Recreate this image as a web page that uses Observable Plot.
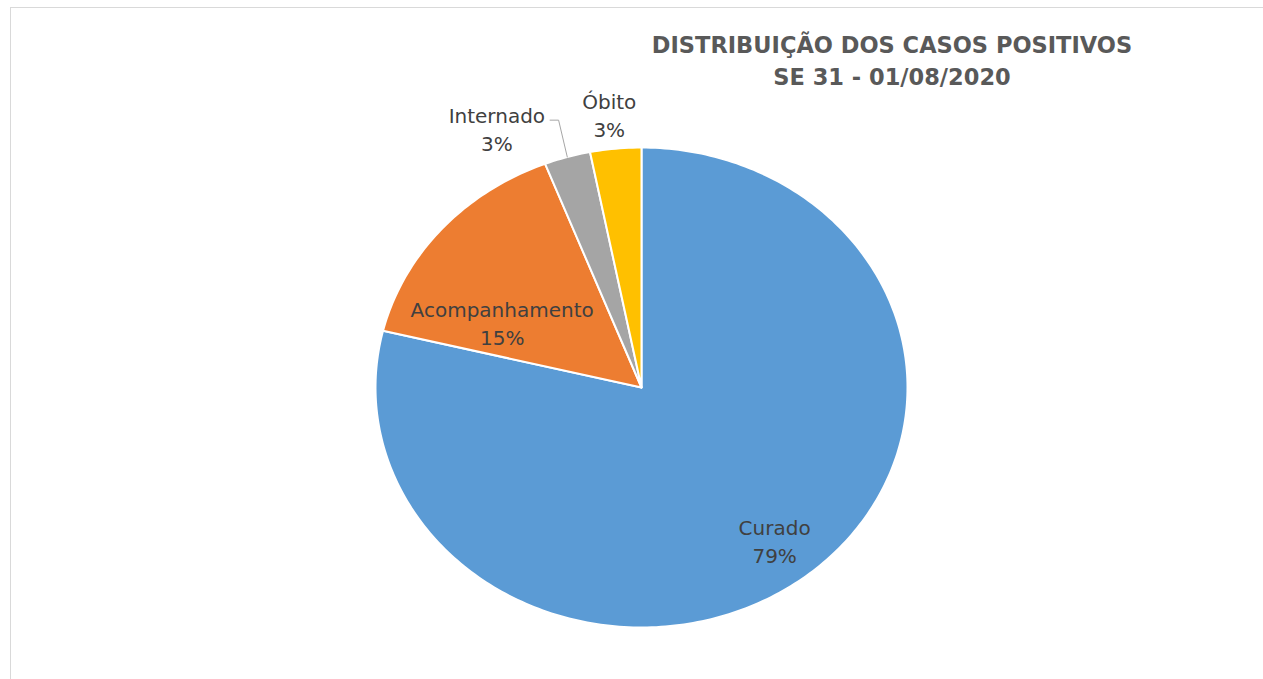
<!DOCTYPE html>
<html>
<head>
<meta charset="utf-8">
<script src="https://cdn.jsdelivr.net/npm/d3@7"></script>
<script src="https://cdn.jsdelivr.net/npm/@observablehq/plot@0.6"></script>
<style>
  html, body { margin: 0; padding: 0; background: #fff; overflow: hidden; }
  #wrap { position: relative; width: 1263px; height: 679px; }
  #border { position: absolute; left: 10px; top: 7px; width: 1300px; height: 700px;
            border-left: 1.5px solid #d9d9d9; border-top: 1.5px solid #d9d9d9; }
  #title { position: absolute; left: 592px; top: 29px; width: 600px; text-align: center;
           font-family: "DejaVu Sans", sans-serif; font-weight: bold; font-size: 22.5px;
           line-height: 32px; color: #595959; }
  #chart { position: absolute; left: 0; top: 0; }
</style>
</head>
<body>
<div id="wrap">
  <div id="border"></div>
  <div id="chart"></div>
  <div id="title">DISTRIBUIÇÃO DOS CASOS POSITIVOS<br>SE 31 - 01/08/2020</div>
</div>
<script>
// Data (percent of positive cases)
const categories = ["Curado", "Acompanhamento", "Internado", "Óbito"];
const values = [78.8, 15.3, 2.8, 3.1];
const percentLabels = ["79%", "15%", "3%", "3%"];
const colors = ["#5B9BD5", "#ED7D31", "#A5A5A5", "#FFC000"];

// label placement (radius as fraction of pie radius, angular shift in degrees)
const placement = {
  "Curado": {r: 0.81, shift: 0},
  "Acompanhamento": {r: 0.59, shift: -13.8},
  "Internado": {r: 1.21, shift: -10.5},
  "Óbito": {r: 1.145, shift: -0.5}
};

const rows = categories.map((c, i) => ({label: c, value: values[i], pct: percentLabels[i]}));
const arcs = d3.pie().sort(null).value(d => d.value).startAngle(0).endAngle(2 * Math.PI)(rows);

const polar = (r, a) => ({x: r * Math.sin(a), y: r * Math.cos(a)});

// polygon vertices for each slice
const slicePts = [];
for (const a of arcs) {
  const n = Math.max(4, Math.ceil((a.endAngle - a.startAngle) / (Math.PI / 180)));
  slicePts.push({label: a.data.label, ...polar(0, 0)});
  for (let k = 0; k <= n; k++) {
    const t = a.startAngle + (a.endAngle - a.startAngle) * k / n;
    slicePts.push({label: a.data.label, ...polar(1, t)});
  }
}

// labels
const labelPts = arcs.map(a => {
  const mid = (a.startAngle + a.endAngle) / 2;
  const p = placement[a.data.label];
  return {label: a.data.label, text: a.data.label + "\n" + a.data.pct,
          ...polar(p.r, mid + p.shift * Math.PI / 180)};
});

// leader line for Internado
const intArc = arcs.find(a => a.data.label === "Internado");
const intMid = (intArc.startAngle + intArc.endAngle) / 2;
const e0 = polar(1.0, intMid);
const e1 = polar(1.16, intMid);
const leader = [e0, {x: e1.x + 0.012, y: e1.y}, {x: e1.x - 0.02, y: e1.y}];

const plot = Plot.plot({
  width: 1263,
  height: 679,
  marginLeft: 375,
  marginRight: 356,
  marginTop: 147,
  marginBottom: 52,
  x: {domain: [-1, 1], axis: null},
  y: {domain: [-1, 1], axis: null},
  color: {domain: categories, range: colors},
  style: {background: "transparent", overflow: "visible"},
  marks: [
    Plot.line(slicePts, {x: "x", y: "y", z: "label", fill: "label", stroke: "white",
                         strokeWidth: 2, curve: "linear-closed", strokeLinejoin: "round"}),
    Plot.line(leader, {x: "x", y: "y", stroke: "#a6a6a6", strokeWidth: 1}),
    Plot.text(labelPts, {x: "x", y: "y", text: "text", fill: "#404040",
                         fontSize: 20, lineHeight: 1.4, textAnchor: "middle",
                         lineAnchor: "middle", fontFamily: "DejaVu Sans",
                         style: "letter-spacing:0.6px"})
  ]
});
document.getElementById("chart").appendChild(plot);
</script>
</body>
</html>
